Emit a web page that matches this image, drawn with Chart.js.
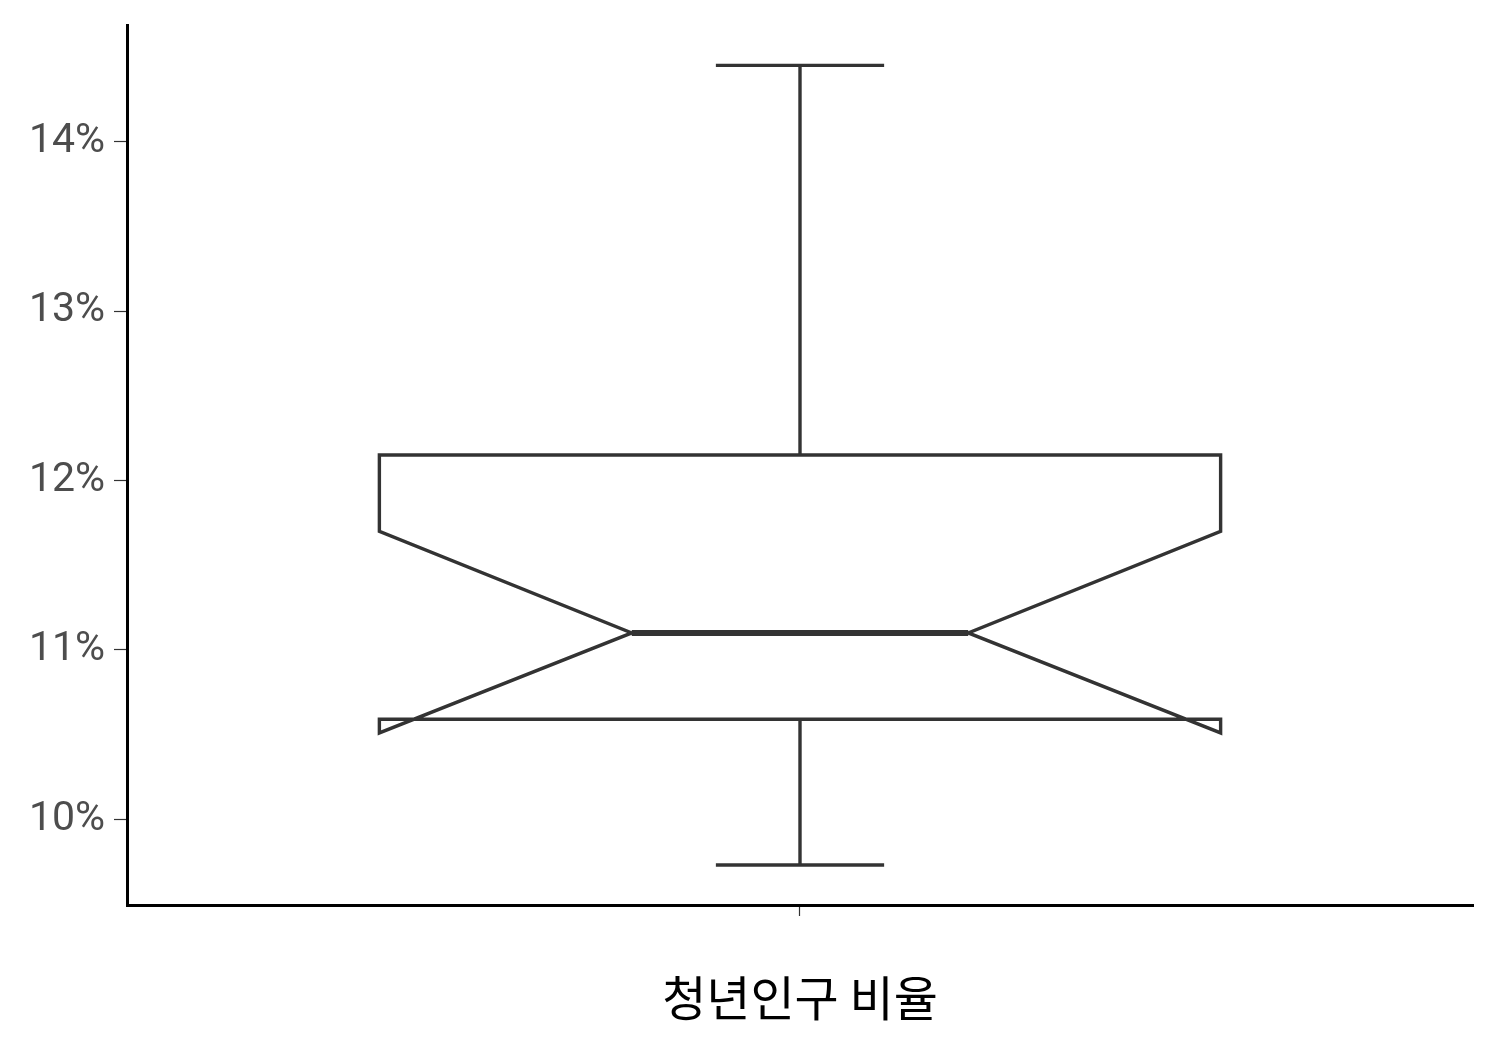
<!DOCTYPE html>
<html>
<head>
<meta charset="utf-8">
<script src="https://cdn.jsdelivr.net/npm/chart.js@4"></script>
<style>
  html, body { margin: 0; padding: 0; background: #fff; }
  #wrap { width: 1500px; height: 1050px; }
</style>
</head>
<body>
<div id="wrap"><canvas id="chart" width="1500" height="1050"></canvas></div>
<script>
// values (percent)
const categories = ['청년인구 비율'];
const whiskerLow = [9.73];
const q1 = [10.59];
const notchLow = [10.51];
const median = [11.10];
const notchHigh = [11.70];
const q3 = [12.15];
const whiskerHigh = [14.45];
const yTicks = [10, 11, 12, 13, 14];

// box geometry in x units (category i sits at i + 1)
const boxHalf = 0.375;
const notchHalf = 0.15;
const capHalf = 0.075;
const lineColor = '#333333';

function lineSet(points, width) {
    return {
        data: points,
        showLine: true,
        borderColor: lineColor,
        borderWidth: width,
        pointRadius: 0,
        borderJoinStyle: 'miter',
        borderCapStyle: 'butt',
        fill: false,
        tension: 0
    };
}

var datasets = [];
categories.forEach((cat, i) => {
    let c = i + 1;
    // notched box outline
    datasets.push(lineSet([
        {x: c - boxHalf, y: q3[i]},
        {x: c - boxHalf, y: notchHigh[i]},
        {x: c - notchHalf, y: median[i]},
        {x: c - boxHalf, y: notchLow[i]},
        {x: c - boxHalf, y: q1[i]},
        {x: c + boxHalf, y: q1[i]},
        {x: c + boxHalf, y: notchLow[i]},
        {x: c + notchHalf, y: median[i]},
        {x: c + boxHalf, y: notchHigh[i]},
        {x: c + boxHalf, y: q3[i]},
        {x: c - boxHalf, y: q3[i]},
        {x: c - boxHalf, y: notchHigh[i]}
    ], 3.4));
    // median
    datasets.push(lineSet([
        {x: c - notchHalf, y: median[i]},
        {x: c + notchHalf, y: median[i]}
    ], 6));
    // whiskers
    datasets.push(lineSet([{x: c, y: q3[i]}, {x: c, y: whiskerHigh[i]}], 3.4));
    datasets.push(lineSet([{x: c - capHalf, y: whiskerHigh[i]}, {x: c + capHalf, y: whiskerHigh[i]}], 3.4));
    datasets.push(lineSet([{x: c, y: q1[i]}, {x: c, y: whiskerLow[i]}], 3.4));
    datasets.push(lineSet([{x: c - capHalf, y: whiskerLow[i]}, {x: c + capHalf, y: whiskerLow[i]}], 3.4));
});

// ggplot-like expansion of the value range
const yLo = Math.min(...whiskerLow), yHi = Math.max(...whiskerHigh);
const yPad = (yHi - yLo) * 0.05;

new Chart(document.getElementById('chart'), {
    type: 'scatter',
    data: { datasets: datasets },
    options: {
        responsive: false,
        animation: false,
        devicePixelRatio: 1,
        layout: { padding: { left: 0, right: 27, top: 25, bottom: 0 } },
        plugins: {
            legend: { display: false },
            tooltip: { enabled: false }
        },
        scales: {
            x: {
                type: 'linear',
                min: 0.4,
                max: categories.length + 0.6,
                afterBuildTicks: (scale) => {
                    scale.ticks = categories.map((c, i) => ({ value: i + 1 }));
                },
                afterFit: (scale) => { scale.height = 145; },
                ticks: {
                    callback: () => '',
                    padding: 0
                },
                grid: {
                    drawOnChartArea: false,
                    drawTicks: true,
                    tickLength: 11,
                    tickColor: '#333333',
                    tickWidth: 1.2
                },
                border: { display: true, color: '#000000', width: 3 },
                title: {
                    display: true,
                    text: categories[0],
                    color: '#000000',
                    font: { family: '"Noto Sans CJK KR", "Noto Sans", sans-serif', size: 48 },
                    padding: { top: 0, bottom: 23 }
                }
            },
            y: {
                type: 'linear',
                min: yLo - yPad,
                max: yHi + yPad,
                afterBuildTicks: (scale) => {
                    scale.ticks = yTicks.map(v => ({ value: v }));
                },
                afterFit: (scale) => { scale.width = 127; },
                ticks: {
                    callback: (v) => v + '%',
                    color: '#4d4d4d',
                    padding: 9,
                    font: { family: 'Roboto, sans-serif', size: 41, lineHeight: 0.8 }
                },
                grid: {
                    drawOnChartArea: false,
                    drawTicks: true,
                    tickLength: 13,
                    tickColor: '#333333',
                    tickWidth: 1.2
                },
                border: { display: true, color: '#000000', width: 3 }
            }
        }
    }
});
</script>
</body>
</html>
